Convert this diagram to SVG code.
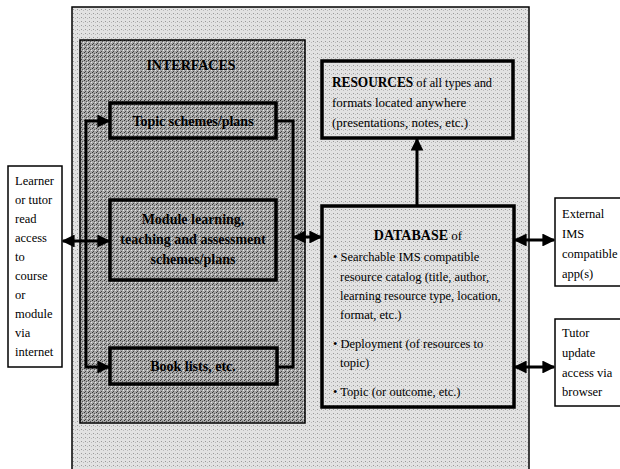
<svg xmlns="http://www.w3.org/2000/svg" width="620" height="469" viewBox="0 0 620 469">
<style>
.t{font-family:"Liberation Serif","Times New Roman",serif;fill:#000}
.b{font-weight:bold}
.box{stroke:#000;stroke-width:3.5}
.thin{stroke:#000;stroke-width:1.5;fill:#fff}
.con{stroke:#000;stroke-width:3;fill:none}
</style>
<defs>
<pattern id="lt" width="4" height="4" patternUnits="userSpaceOnUse">
<rect width="4" height="4" fill="#e2e2e2"/>
<rect x="1" y="1" width="1" height="1" fill="#999"/>
<rect x="3" y="2" width="1" height="1" fill="#bbb"/>
</pattern>
<pattern id="dk" width="4" height="4" patternUnits="userSpaceOnUse">
<rect width="4" height="4" fill="#a8a8a8"/>
<rect x="0" y="0" width="1" height="1" fill="#333"/>
<rect x="2" y="1" width="1" height="1" fill="#555"/>
<rect x="1" y="3" width="1" height="1" fill="#444"/>
<rect x="3" y="2" width="1" height="1" fill="#e8e8e8"/>
</pattern>
<marker id="ah" viewBox="0 0 10 10" refX="9" refY="5" markerWidth="4.3" markerHeight="4.3" orient="auto-start-reverse" markerUnits="strokeWidth">
<path d="M0,0 L10,5 L0,10 z" fill="#000"/>
</marker>
</defs>

<g id="outer">
<rect x="72" y="7" width="457" height="470" fill="url(#lt)" stroke="#000" stroke-width="1.5"/>
</g>

<g id="interfaces">
<rect x="80" y="40" width="225" height="383" fill="url(#dk)" stroke="#000" stroke-width="1.5"/>
<text class="t b" x="191" y="70" font-size="14" text-anchor="middle">INTERFACES</text>
</g>

<g id="topic">
<rect class="box" x="110" y="103" width="166" height="35" fill="url(#dk)"/>
<text class="t b" x="193" y="126" font-size="14" text-anchor="middle">Topic schemes/plans</text>
</g>

<g id="module">
<rect class="box" x="110" y="200" width="166" height="80" fill="url(#dk)"/>
<text class="t b" x="193" y="224" font-size="14" text-anchor="middle">Module learning,</text>
<text class="t b" x="193" y="244" font-size="14" text-anchor="middle">teaching and assessment</text>
<text class="t b" x="193" y="264" font-size="14" text-anchor="middle">schemes/plans</text>
</g>

<g id="books">
<rect class="box" x="110" y="348" width="167" height="36" fill="url(#dk)"/>
<text class="t b" x="193" y="371" font-size="14" text-anchor="middle">Book lists, etc.</text>
</g>

<g id="resources">
<rect class="box" x="322" y="61" width="191" height="77" fill="url(#lt)"/>
<text class="t" x="332" y="87" font-size="13" textLength="160" lengthAdjust="spacingAndGlyphs"><tspan class="b" font-size="14">RESOURCES</tspan> of all types and</text>
<text class="t" x="332" y="107" font-size="13">formats located anywhere</text>
<text class="t" x="332" y="127" font-size="13">(presentations, notes, etc.)</text>
</g>

<g id="database">
<rect class="box" x="322" y="206" width="192" height="201" fill="url(#lt)"/>
<text class="t" x="418" y="240" font-size="13" text-anchor="middle"><tspan class="b" font-size="14">DATABASE</tspan> of</text>
<text class="t" x="333" y="261" font-size="12.5">• Searchable IMS compatible</text>
<text class="t" x="340" y="281" font-size="12.5">resource catalog (title, author,</text>
<text class="t" x="340" y="300" font-size="12.5">learning resource type, location,</text>
<text class="t" x="340" y="319" font-size="12.5">format, etc.)</text>
<text class="t" x="333" y="348" font-size="12.5">• Deployment (of resources to</text>
<text class="t" x="340" y="367" font-size="12.5">topic)</text>
<text class="t" x="333" y="396" font-size="12.5">• Topic (or outcome, etc.)</text>
</g>

<g id="learner">
<rect class="thin" x="8" y="166" width="54" height="201"/>
<g class="t" font-size="12.5">
<text x="15" y="185">Learner</text>
<text x="15" y="204">or tutor</text>
<text x="15" y="223">read</text>
<text x="15" y="242">access</text>
<text x="15" y="261">to</text>
<text x="15" y="280">course</text>
<text x="15" y="299">or</text>
<text x="15" y="318">module</text>
<text x="15" y="337">via</text>
<text x="15" y="356">internet</text>
</g>
</g>

<g id="external">
<rect class="thin" x="555" y="198" width="70" height="88"/>
<g class="t" font-size="12.5">
<text x="562" y="218">External</text>
<text x="562" y="238">IMS</text>
<text x="562" y="258">compatible</text>
<text x="562" y="278">app(s)</text>
</g>
</g>

<g id="tutor">
<rect class="thin" x="555" y="319" width="70" height="87"/>
<g class="t" font-size="12.5">
<text x="562" y="337">Tutor</text>
<text x="562" y="357">update</text>
<text x="562" y="377">access via</text>
<text x="562" y="396">browser</text>
</g>
</g>

<g id="connectors">
<path class="con" d="M63,241 H109" marker-start="url(#ah)" marker-end="url(#ah)"/>
<path class="con" d="M109,121 H86 V367 H109" marker-start="url(#ah)" marker-end="url(#ah)"/>
<path class="con" d="M276,121 H293 V367 H277"/>
<path class="con" d="M294,237 H321" marker-start="url(#ah)" marker-end="url(#ah)"/>
<path class="con" d="M417,205 V139" marker-end="url(#ah)"/>
<path class="con" d="M515,240 H554" marker-start="url(#ah)" marker-end="url(#ah)"/>
<path class="con" d="M515,367 H554" marker-start="url(#ah)" marker-end="url(#ah)"/>
</g>
</svg>
